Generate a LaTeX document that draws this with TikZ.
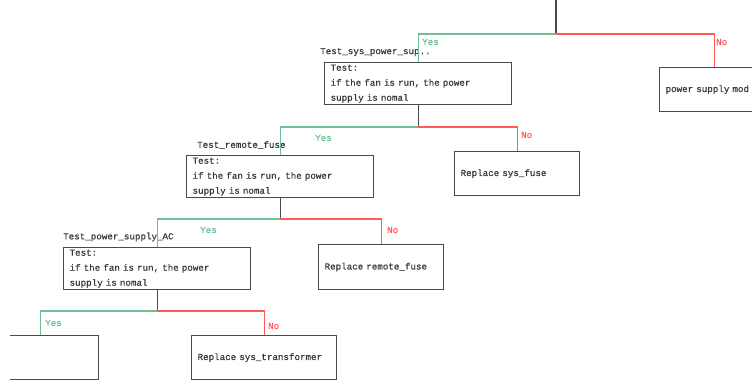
\documentclass[tikz,border=0pt]{standalone}
\usepackage{fontspec}
\newfontfamily\monof{Liberation Mono}[WordSpace={1,0,0}, FakeBold=0.6]
\definecolor{yesgreen}{HTML}{6DBF94}
\definecolor{nored}{HTML}{FF5A5A}
\definecolor{boxgrey}{HTML}{4A4A4A}
\definecolor{txtgrey}{HTML}{3A3A3A}
\begin{document}
\begin{tikzpicture}[x=1pt,y=-1pt,
  every node/.style={font=\monof\fontsize{9.2}{15}\selectfont, text=txtgrey},
  testbox/.style={draw=boxgrey, line width=1.2pt, anchor=north west, minimum width=187pt, minimum height=42pt, text width=175pt, align=left, inner xsep=6pt, inner ysep=0pt},
  endbox/.style={draw=boxgrey, line width=1.2pt, anchor=north west, minimum height=44pt, align=left, inner xsep=6pt, inner ysep=0pt},
  title/.style={anchor=west, inner sep=0pt},
  yeslab/.style={anchor=west, inner sep=0pt, text=yesgreen},
  nolab/.style={anchor=west, inner sep=0pt, text=nored},
  yesline/.style={draw=yesgreen, line width=1.1pt},
  noline/.style={draw=nored, line width=1.1pt},
  stem/.style={draw=boxgrey, line width=1.1pt}]
\useasboundingbox (0,0) rectangle (752,381);
\fill[white] (0,0) rectangle (752,381);

% boxes
\node[testbox] (t1) at (324,62) {Test:\\if the fan is run, the power\\supply is nomal};
\node[endbox, minimum width=110pt, text width=98pt] (pm) at (659,67) {power supply mod};
\node[testbox] (t2) at (186,155) {Test:\\if the fan is run, the power\\supply is nomal};
\node[endbox, minimum width=125pt, text width=113pt] (sf) at (454,151) {Replace sys\_fuse};
\node[testbox] (t3) at (63,247) {Test:\\if the fan is run, the power\\supply is nomal};
\node[endbox, minimum width=125pt, text width=113pt, minimum height=45pt] (rf) at (318,244) {Replace remote\_fuse};
\node[endbox, minimum width=145pt, text width=133pt] (st) at (191,335) {Replace sys\_transformer};
\begin{scope}
\clip (10,0) rectangle (752,381);
\node[endbox, minimum width=116pt] (bl) at (-18,335) {};
\end{scope}

% titles
\node[title] (l1) at (320,52) {Test\_sys\_power\_sup..};
\node[title] (l2) at (197,145) {Test\_remote\_fuse};
\node[title] (l3) at (63,237) {Test\_power\_supply\_AC};

% junctions
\coordinate (top) at (556,0);
\coordinate (j0) at (556,34);
\coordinate (j1) at (t1.south |- 0,127);
\coordinate (j2) at (t2.south |- 0,219);
\coordinate (j3) at (t3.south |- 0,311);

% connectors
\draw[stem] (top) -- (j0);
\draw[yesline] (j0) -| (t1.north);
\draw[noline] (j0) -| (pm.north);
\draw[stem] (t1.south) -- (j1);
\draw[yesline] (j1) -| (t2.north);
\draw[noline] (j1) -| (sf.north);
\draw[stem] (t2.south) -- (j2);
\draw[yesline] (j2) -| (t3.north);
\draw[noline] (j2) -| (rf.north);
\draw[stem] (t3.south) -- (j3);
\draw[yesline] (j3) -| (bl.north);
\draw[noline] (j3) -| (st.north);

% yes / no labels
\node[yeslab] (y1) at (422,42) {Yes};
\node[nolab] (n1) at (716,42) {No};
\node[yeslab] (y2) at (315,138) {Yes};
\node[nolab] (n2) at (521,135) {No};
\node[yeslab] (y3) at (200,230) {Yes};
\node[nolab] (n3) at (387,230) {No};
\node[yeslab] (y4) at (45,323) {Yes};
\node[nolab] (n4) at (268,326) {No};
\end{tikzpicture}
\end{document}
